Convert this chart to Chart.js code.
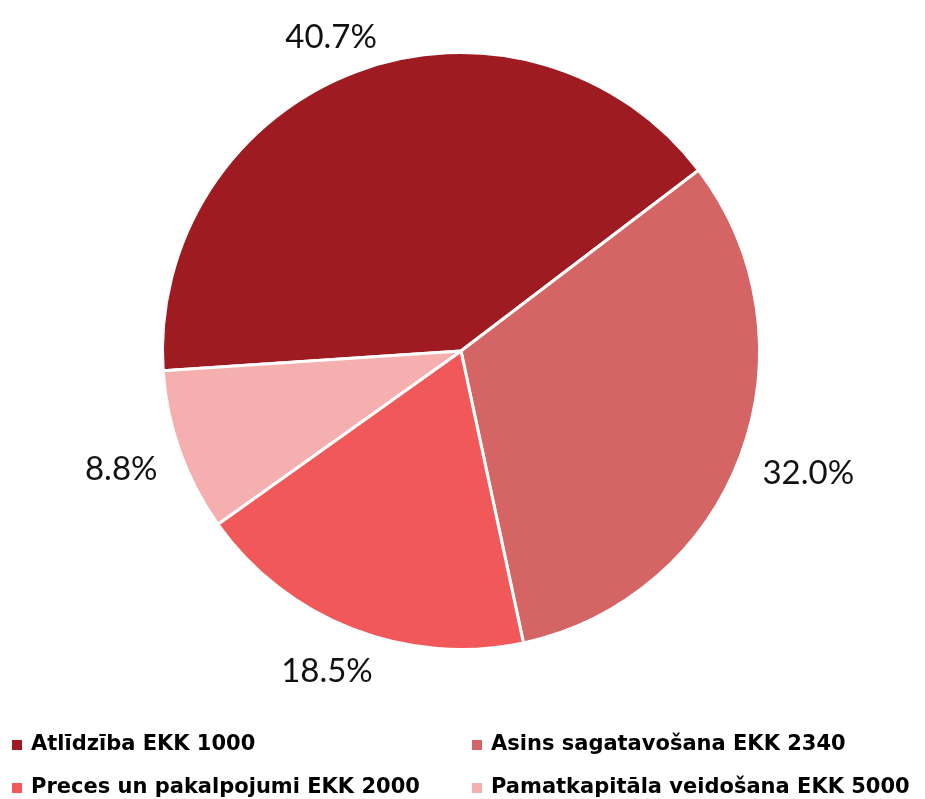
<!DOCTYPE html>
<html>
<head>
<meta charset="utf-8">
<script src="https://cdn.jsdelivr.net/npm/chart.js@4.4.1/dist/chart.umd.min.js"></script>
<style>
    html, body { margin: 0; padding: 0; background: #fff; }
    #wrap { position: relative; width: 925px; height: 799px; overflow: hidden; }
</style>
</head>
<body>
<div id="wrap"><canvas id="pieChart" width="925" height="799"></canvas></div>
<script>
// dati
const categories = ['Atlīdzība EKK 1000', 'Asins sagatavošana EKK 2340', 'Preces un pakalpojumi EKK 2000', 'Pamatkapitāla veidošana EKK 5000'];
const shares = [40.7, 32.0, 18.5, 8.8];
const sliceColors = ['#9E1B21', '#D56464', '#F0585A', '#F5AFAF'];

// procentu etiķetes ārpus sektoriem
const outsideLabels = {
    id: 'outsideLabels',
    afterDatasetsDraw(chart) {
        const ctx = chart.ctx;
        const arcs = chart.getDatasetMeta(0).data;
        ctx.save();
        ctx.font = '33px Lato, sans-serif';
        ctx.fillStyle = '#111';
        ctx.textAlign = 'center';
        ctx.textBaseline = 'middle';
        arcs.forEach((arc, i) => {
            const p = arc.getProps(['x', 'y', 'startAngle', 'endAngle', 'outerRadius'], true);
            const mid = (p.startAngle + p.endAngle) / 2;
            const txt = shares[i].toFixed(1) + '%';
            const w = ctx.measureText(txt).width;
            const h = 30;
            const r = p.outerRadius + 26;
            const cx = p.x + Math.cos(mid) * (r + w / 2);
            const cy = p.y + Math.sin(mid) * (r + h / 2) + 4;
            ctx.fillText(txt, cx, cy);
        });
        ctx.restore();
    }
};

// leģenda režģī (2 kolonnas)
const gridLegend = {
    id: 'gridLegend',
    afterDraw(chart) {
        const ctx = chart.ctx;
        const labels = chart.data.labels;
        const colors = chart.data.datasets[0].backgroundColor;
        ctx.save();
        ctx.font = 'bold 21px "DejaVu Sans", sans-serif';
        ctx.textBaseline = 'middle';
        ctx.textAlign = 'left';
        labels.forEach((lbl, i) => {
            const col = i % 2, row = Math.floor(i / 2);
            const x = 12 + col * 460;
            const y = 745 + row * 43;
            ctx.fillStyle = colors[i];
            ctx.fillRect(x, y - 5, 10, 10);
            ctx.fillStyle = '#000';
            ctx.fillText(lbl, x + 19, y);
        });
        ctx.restore();
    }
};

new Chart(document.getElementById('pieChart'), {
    type: 'pie',
    data: {
        labels: categories,
        datasets: [{
            data: shares,
            backgroundColor: sliceColors,
            borderColor: '#fff',
            borderWidth: 3
        }]
    },
    options: {
        responsive: false,
        animation: false,
        rotation: 266.2,
        layout: { padding: { top: 50, bottom: 147, left: 161, right: 164 } },
        plugins: {
            legend: { display: false },
            tooltip: { enabled: false }
        }
    },
    plugins: [outsideLabels, gridLegend]
});
</script>
</body>
</html>
